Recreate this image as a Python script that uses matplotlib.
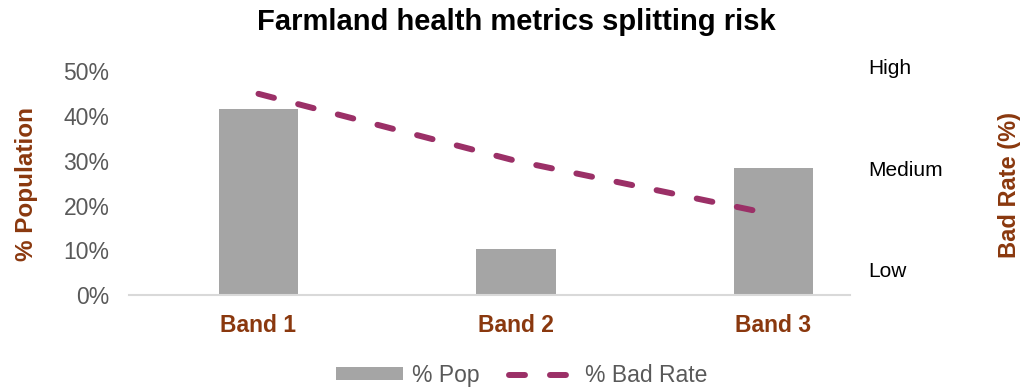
import matplotlib
matplotlib.use("Agg")
import matplotlib.pyplot as plt
from matplotlib.lines import Line2D
from matplotlib.patches import Patch

plt.rcParams["font.family"] = ["Liberation Sans", "DejaVu Sans"]
plt.rcParams["lines.scale_dashes"] = False

# Data
bands = ["Band 1", "Band 2", "Band 3"]
pct_pop = [0.415, 0.103, 0.285]
bad_rate = [0.45, 0.30, 0.18]
left_ticks = [0.0, 0.1, 0.2, 0.3, 0.4, 0.5]
left_tick_labels = ["0%", "10%", "20%", "30%", "40%", "50%"]
risk_levels = ["Low", "Medium", "High"]
risk_positions = [0.056, 0.284, 0.512]

BAR_COLOR = "#A5A5A5"
LINE_COLOR = "#9B3067"
LABEL_COLOR = "#8A380E"
TICK_GRAY = "#595959"
DASH = (0, (11.5, 18))

fig = plt.figure(figsize=(10.21, 3.87), dpi=100)
ax = fig.add_axes([0.1263, 0.2377, 0.7062, 0.6123])
x = list(range(len(bands)))

ax.bar(x, pct_pop, width=0.31, color=BAR_COLOR, zorder=2)
ax.set_xlim(-0.503, 2.297)
ax.set_ylim(0, 0.53)
ax.set_yticks(left_ticks)
ax.set_yticklabels(left_tick_labels)
ax.set_xticks(x)
ax.set_xticklabels(bands, fontweight="bold", color=LABEL_COLOR, fontsize=16.5)
ax.tick_params(axis="y", length=0, pad=14, labelsize=16.5, labelcolor=TICK_GRAY)
ax.tick_params(axis="x", length=0, pad=14)
for s in ["top", "right", "left"]:
    ax.spines[s].set_visible(False)
ax.spines["bottom"].set_color("#D9D9D9")
ax.spines["bottom"].set_linewidth(1.5)

ax2 = ax.twinx()
ax2.set_ylim(0, 0.53)
ax2.plot(x, bad_rate, color=LINE_COLOR, lw=4.3, linestyle=DASH,
         dash_capstyle="round", zorder=3)
ax2.set_yticks(risk_positions)
ax2.set_yticklabels(risk_levels)
ax2.tick_params(axis="y", length=0, pad=13, labelsize=15, labelcolor="black")
for s in ax2.spines.values():
    s.set_visible(False)

# Axis titles
fig.text(26 / 1021, 1 - 184 / 387, "% Population", rotation=90, ha="center", va="center",
         fontsize=17.5, fontweight="bold", color=LABEL_COLOR)
fig.text(1009 / 1021, 1 - 185 / 387, "Bad Rate (%)", rotation=90, ha="center", va="center",
         fontsize=17, fontweight="bold", color=LABEL_COLOR)

fig.text(516 / 1021, 1 - 22 / 387, "Farmland health metrics splitting risk", fontsize=21,
         fontweight="bold", ha="center", va="center")

handles = [Patch(facecolor=BAR_COLOR, edgecolor="none"),
           Line2D([0], [0], color=LINE_COLOR, lw=4.3, linestyle=DASH,
                  dash_capstyle="round")]
leg = fig.legend(handles, ["% Pop", "% Bad Rate"], loc="center", bbox_to_anchor=(0.511, 0.03),
                 ncol=2, frameon=False, fontsize=16.5, handlelength=2.9, handleheight=0.5,
                 columnspacing=1.3, handletextpad=0.4)
for t in leg.get_texts():
    t.set_color(TICK_GRAY)

fig.savefig("out.png", dpi=100)
